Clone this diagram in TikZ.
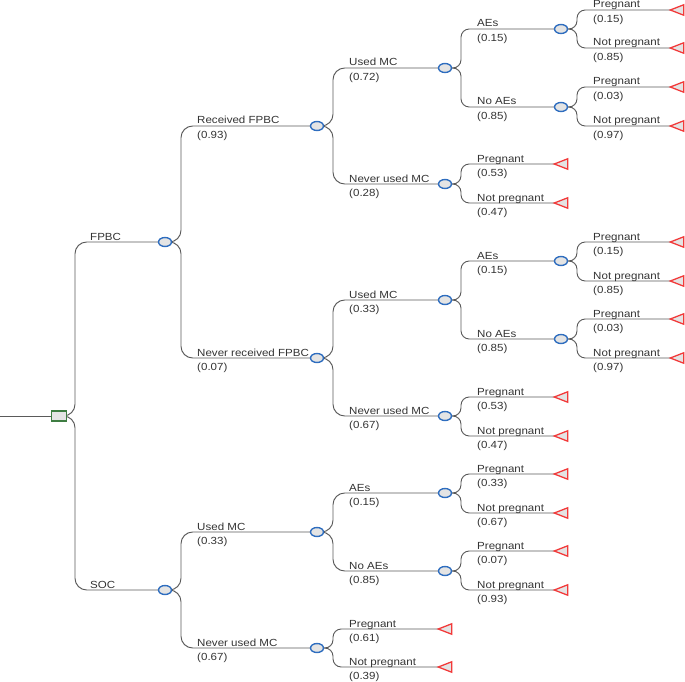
\documentclass[tikz,border=0pt]{standalone}
\usepackage{fontspec}
\setmainfont{Liberation Sans}[FakeStretch=1.12]
\usetikzlibrary{calc,backgrounds,shapes.geometric}
\definecolor{edgegray}{HTML}{5A5A5A}
\definecolor{txtgray}{HTML}{333333}
\definecolor{chblue}{HTML}{2E6DBF}
\definecolor{decgreen}{HTML}{3E7D42}
\definecolor{termred}{HTML}{F23A3A}
\definecolor{nodefill}{HTML}{E4E4E4}

\begin{document}
\begin{tikzpicture}[
  x=0.03cm, y=-0.03cm,
  font=\fontsize{8.8}{10}\selectfont,
  dec/.style={draw=decgreen, line width=1.2pt, fill=nodefill,
              minimum width=0.44cm, minimum height=0.3cm, inner sep=0pt},
  chance/.style={ellipse, draw=chblue, line width=1.2pt, fill=nodefill,
                 minimum width=0.39cm, minimum height=0.27cm, inner sep=0pt},
  term/.style={minimum width=0.39cm, minimum height=0.3cm, inner sep=0pt},
  tri/.style={draw=termred, line width=1.1pt, fill=nodefill},
  br/.style={draw=edgegray, line width=0.8pt, rounded corners=7pt},
  brw/.style={br, rounded corners=10pt},
  lbl/.style={anchor=base west, inner sep=0pt, text=txtgray},
]
\useasboundingbox (0,0) rectangle (685,681);
% --- decision ---
\coordinate (in) at (0,416);
\node[dec] (d0) at (59,416) {};
% --- level 1 ---
\node[chance] (c1) at (165,242) {};
\node[chance] (c2) at (165,590) {};
% --- level 2 ---
\node[chance] (c11) at (317,126) {};
\node[chance] (c12) at (317,358) {};
\node[chance] (c21) at (317,532) {};
\node[chance] (c22) at (317,648) {};
% --- level 3 ---
\node[chance] (c111) at (445,68) {};
\node[chance] (c112) at (445,184) {};
\node[chance] (c121) at (445,300) {};
\node[chance] (c122) at (445,416) {};
\node[chance] (c211) at (445,493) {};
\node[chance] (c212) at (445,571) {};
\node[term] (t221) at (445,629) {};
\node[term] (t222) at (445,667) {};
% --- level 4 ---
\node[chance] (c1111) at (561,29) {};
\node[chance] (c1112) at (561,107) {};
\node[term] (t1121) at (561,164) {};
\node[term] (t1122) at (561,203) {};
\node[chance] (c1211) at (561,261) {};
\node[chance] (c1212) at (561,339) {};
\node[term] (t1221) at (561,397) {};
\node[term] (t1222) at (561,436) {};
\node[term] (t2111) at (561,474) {};
\node[term] (t2112) at (561,513) {};
\node[term] (t2121) at (561,551) {};
\node[term] (t2122) at (561,590) {};
% --- level 5 ---
\node[term] (t11111) at (677,10) {};
\node[term] (t11112) at (677,48) {};
\node[term] (t11121) at (677,87) {};
\node[term] (t11122) at (677,126) {};
\node[term] (t12111) at (677,242) {};
\node[term] (t12112) at (677,281) {};
\node[term] (t12121) at (677,319) {};
\node[term] (t12122) at (677,358) {};
\foreach \t in {t221,t222,t1121,t1122,t1221,t1222,t2111,t2112,t2121,t2122,
                t11111,t11112,t11121,t11122,t12111,t12112,t12121,t12122}
  \filldraw[tri] (\t.west) -- (\t.north east) -- (\t.south east) -- cycle;
% --- branches ---
\begin{pgfonlayer}{background}
\draw[br] (in) -- (d0.center);
\foreach \p/\c in {d0/c1, d0/c2, c1/c11, c1/c12, c2/c21, c2/c22,
                   c11/c111, c11/c112, c12/c121, c12/c122, c21/c211, c21/c212}
  \draw[brw] (\p.center) -- ++(16,0) |- (\c.center);
\foreach \p/\c in {c22/t221, c22/t222,
                   c111/c1111, c111/c1112, c112/t1121, c112/t1122,
                   c121/c1211, c121/c1212, c122/t1221, c122/t1222,
                   c211/t2111, c211/t2112, c212/t2121, c212/t2122,
                   c1111/t11111, c1111/t11112, c1112/t11121, c1112/t11122,
                   c1211/t12111, c1211/t12112, c1212/t12121, c1212/t12122}
  \draw[br] (\p.center) -- ++(16,0) |- (\c.center);
\end{pgfonlayer}
% --- labels ---
\node[lbl] (nc1) at ($(d0 |- c1)+(31,-2)$) {FPBC};
\node[lbl] (nc2) at ($(d0 |- c2)+(31,-2)$) {SOC};
\foreach \p/\c/\t/\q in {
    c1/c11/Received FPBC/(0.93), c1/c12/Never received FPBC/(0.07),
    c2/c21/Used MC/(0.33), c2/c22/Never used MC/(0.67),
    c11/c111/Used MC/(0.72), c11/c112/Never used MC/(0.28),
    c12/c121/Used MC/(0.33), c12/c122/Never used MC/(0.67),
    c21/c211/AEs/(0.15), c21/c212/No AEs/(0.85),
    c22/t221/Pregnant/(0.61), c22/t222/Not pregnant/(0.39),
    c111/c1111/AEs/(0.15), c111/c1112/No AEs/(0.85),
    c112/t1121/Pregnant/(0.53), c112/t1122/Not pregnant/(0.47),
    c121/c1211/AEs/(0.15), c121/c1212/No AEs/(0.85),
    c122/t1221/Pregnant/(0.53), c122/t1222/Not pregnant/(0.47),
    c211/t2111/Pregnant/(0.33), c211/t2112/Not pregnant/(0.67),
    c212/t2121/Pregnant/(0.07), c212/t2122/Not pregnant/(0.93),
    c1111/t11111/Pregnant/(0.15), c1111/t11112/Not pregnant/(0.85),
    c1112/t11121/Pregnant/(0.03), c1112/t11122/Not pregnant/(0.97),
    c1211/t12111/Pregnant/(0.15), c1211/t12112/Not pregnant/(0.85),
    c1212/t12121/Pregnant/(0.03), c1212/t12122/Not pregnant/(0.97)} {
  \node[lbl] (n\c) at ($(\p |- \c)+(32,-2)$) {\t};
  \node[lbl] (p\c) at ($(\p |- \c)+(32,12.5)$) {\q};
}
\end{tikzpicture}
\end{document}
